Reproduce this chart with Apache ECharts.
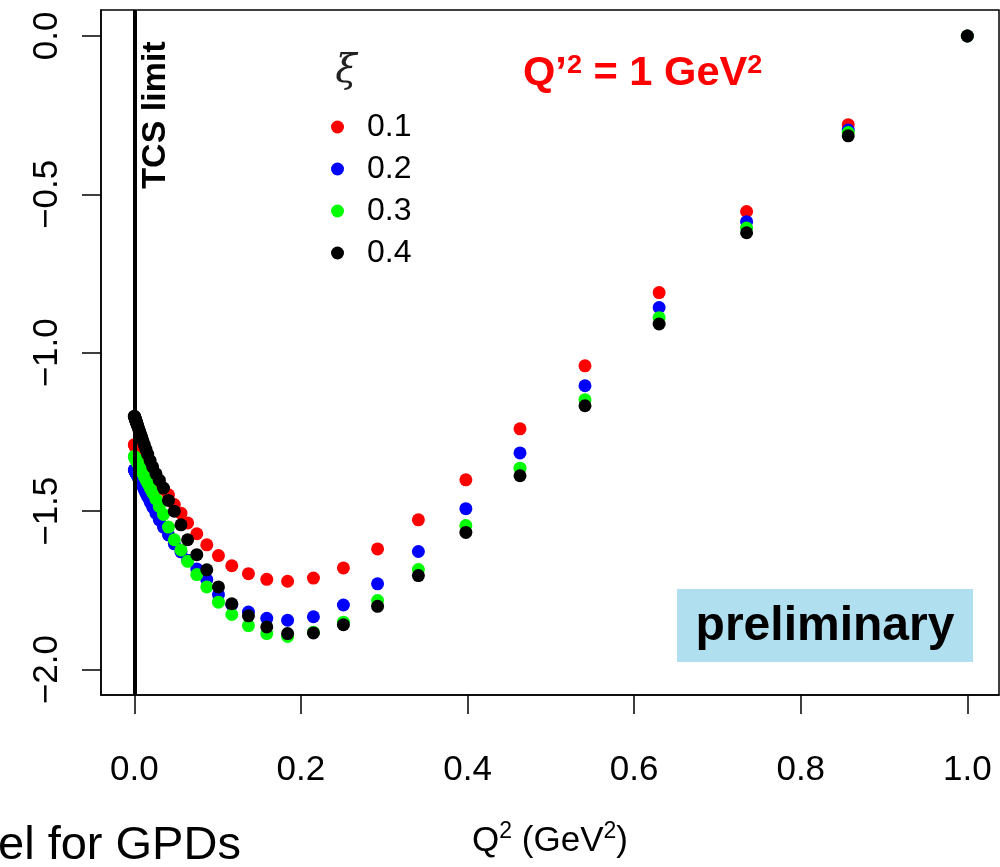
<!DOCTYPE html>
<html><head><meta charset="utf-8">
<script src="https://cdn.jsdelivr.net/npm/echarts@6/dist/echarts.min.js"></script>
<style>html,body{margin:0;padding:0;background:#fff}#c{width:1000px;height:867px}</style>
</head><body><div id="c"></div>
<script>
// Q^2 values (GeV^2), shared by all xi series
const q2 = [0, 0.0003, 0.0006, 0.0009, 0.0012, 0.0015, 0.0018, 0.0021, 0.0025, 0.0029, 0.0034, 0.0040,
  0.0047, 0.0055, 0.0064, 0.0075, 0.0087, 0.010, 0.012, 0.014, 0.016, 0.019, 0.022, 0.026, 0.030, 0.035,
  0.041, 0.048, 0.056, 0.064, 0.075, 0.087, 0.101, 0.117, 0.137, 0.159, 0.184, 0.215, 0.251, 0.292,
  0.341, 0.398, 0.463, 0.541, 0.630, 0.735, 0.857, 1.0];
const xiLabels = ['0.1', '0.2', '0.3', '0.4'];
const yXi01 = [-1.290, -1.291, -1.292, -1.294, -1.295, -1.296, -1.297, -1.298, -1.300, -1.302, -1.304, -1.306,
  -1.309, -1.312, -1.316, -1.320, -1.325, -1.330, -1.338, -1.346, -1.354, -1.366, -1.378, -1.394, -1.410, -1.430,
  -1.448, -1.479, -1.506, -1.537, -1.571, -1.606, -1.640, -1.672, -1.697, -1.715, -1.721, -1.711, -1.679, -1.619,
  -1.527, -1.401, -1.240, -1.041, -0.810, -0.554, -0.280, 0.0];
const yXi02 = [-1.369, -1.370, -1.372, -1.373, -1.375, -1.376, -1.378, -1.379, -1.381, -1.383, -1.386, -1.389,
  -1.393, -1.397, -1.402, -1.408, -1.414, -1.421, -1.433, -1.444, -1.455, -1.471, -1.487, -1.507, -1.527, -1.550,
  -1.575, -1.603, -1.628, -1.655, -1.682, -1.716, -1.763, -1.795, -1.818, -1.838, -1.844, -1.833, -1.796, -1.729,
  -1.627, -1.492, -1.316, -1.104, -0.857, -0.586, -0.297, 0.0];
const yXi03 = [-1.327, -1.329, -1.330, -1.332, -1.333, -1.335, -1.336, -1.338, -1.340, -1.342, -1.344, -1.347,
  -1.351, -1.355, -1.360, -1.366, -1.372, -1.379, -1.390, -1.400, -1.411, -1.427, -1.442, -1.462, -1.485, -1.510,
  -1.550, -1.590, -1.622, -1.658, -1.700, -1.739, -1.787, -1.826, -1.861, -1.886, -1.895, -1.882, -1.850, -1.782,
  -1.684, -1.545, -1.364, -1.148, -0.889, -0.606, -0.305, 0.0];
const yXi04 = [-1.200, -1.202, -1.204, -1.207, -1.209, -1.211, -1.214, -1.216, -1.219, -1.222, -1.226, -1.231,
  -1.236, -1.242, -1.249, -1.257, -1.266, -1.276, -1.290, -1.305, -1.320, -1.340, -1.360, -1.382, -1.402, -1.427,
  -1.466, -1.500, -1.543, -1.590, -1.637, -1.685, -1.739, -1.792, -1.830, -1.865, -1.886, -1.884, -1.858, -1.800,
  -1.703, -1.567, -1.388, -1.167, -0.909, -0.621, -0.315, 0.0];
const xTicks = [0, 0.2, 0.4, 0.6, 0.8, 1.0];
const yTicks = [0, -0.5, -1.0, -1.5, -2.0];
const tcsLimit = 0;

const colors = ['#ff0000', '#0000ff', '#00ff00', '#000000'];
const FONT = 'Liberation Sans';
const ys = [yXi01, yXi02, yXi03, yXi04];
const mk = (i) => ({
  name: xiLabels[i], type: 'scatter', symbol: 'circle', symbolSize: 13,
  itemStyle: { color: colors[i], opacity: 1 },
  data: q2.map((x, j) => [x, ys[i][j]]), silent: true
});
const series = [mk(0), mk(1), mk(2), {
  type: 'scatter', data: [], silent: true,
  markLine: { silent: true, symbol: ['none', 'none'], animation: false,
    lineStyle: { color: '#000', width: 4, type: 'solid' }, label: { show: false },
    data: [{ xAxis: tcsLimit }] }
}, mk(3)];

const fmtY = v => (v === 0 ? '0.0' : (v < 0 ? '\u2212' : '') + Math.abs(v).toFixed(1));
const chart = echarts.init(document.getElementById('c'), null, { renderer: 'canvas' });
chart.setOption({
  animation: false,
  backgroundColor: '#fff',
  grid: { left: 101, right: 1, top: 10, bottom: 172, show: true, borderColor: '#000', borderWidth: 1.5,
    containLabel: false, outerBoundsMode: 'none' },
  xAxis: {
    type: 'value', min: -0.04, max: 1.038, splitLine: { show: false },
    axisLine: { show: true, onZero: false, lineStyle: { color: '#000', width: 1.5 } },
    axisTick: { show: true, customValues: xTicks, length: 19, lineStyle: { color: '#000', width: 1.5 } },
    axisLabel: { customValues: xTicks, formatter: v => v.toFixed(1), fontSize: 35, color: '#000', margin: 58, fontFamily: FONT },
    name: '{a|Q}{s|2}{a| (GeV}{s|2}{a|)}', nameLocation: 'middle', nameGap: 124,
    nameTextStyle: { rich: {
      a: { fontSize: 35, fontFamily: FONT, color: '#000', verticalAlign: 'bottom', lineHeight: 40 },
      s: { fontSize: 23, fontFamily: FONT, color: '#000', verticalAlign: 'bottom', lineHeight: 40, padding: [0, 0, 16, 0] }
    } }
  },
  yAxis: {
    type: 'value', min: -2.08, max: 0.082, splitLine: { show: false },
    axisLine: { show: true, onZero: false, lineStyle: { color: '#000', width: 1.5 } },
    axisTick: { show: true, customValues: yTicks, length: 19, lineStyle: { color: '#000', width: 1.5 } },
    axisLabel: { customValues: yTicks, formatter: fmtY, rotate: 90, fontSize: 35, color: '#000', margin: 36, fontFamily: FONT }
  },
  legend: {
    data: xiLabels, orient: 'vertical', left: 326, top: 101, itemWidth: 13, itemHeight: 13, itemGap: 0,
    icon: 'circle', selectedMode: false,
    textStyle: { fontSize: 32, fontFamily: FONT, color: '#000', lineHeight: 42, padding: [0, 0, 0, 18] }
  },
  graphic: [
    { type: 'text', x: 346, y: 72, silent: true,
      style: { text: '\u03BE', font: 'italic 39px "DejaVu Serif"', fill: '#222', align: 'center', verticalAlign: 'middle' } },
    { type: 'text', x: 523, y: 72, scaleX: 1.04, silent: true,
      style: { text: '{b|Q\u2019}{s|2}{b| = 1 GeV}{s|2}', verticalAlign: 'middle',
        rich: {
          b: { fontSize: 40, fontWeight: 'bold', fontFamily: FONT, fill: '#ff0000', verticalAlign: 'bottom', lineHeight: 44 },
          s: { fontSize: 26, fontWeight: 'bold', fontFamily: FONT, fill: '#ff0000', verticalAlign: 'bottom', lineHeight: 44, padding: [0, 0, 15, 0] }
        } } },
    { type: 'text', x: 156, y: 115, rotation: Math.PI / 2, silent: true,
      style: { text: 'TCS limit', font: 'bold 34px "Liberation Sans"', fill: '#000', align: 'center', verticalAlign: 'middle' } },
    { type: 'rect', shape: { x: 677, y: 589, width: 296, height: 73 }, style: { fill: '#b0dff0' }, silent: true, z: 1 },
    { type: 'text', x: 825, y: 627, silent: true, z: 2,
      style: { text: 'preliminary', font: 'bold 48px "Liberation Sans"', fill: '#000', align: 'center', verticalAlign: 'middle' } },
    { type: 'text', x: -2, y: 846, silent: true,
      style: { text: 'el for GPDs', font: '47px "Liberation Sans"', fill: '#000', align: 'left', verticalAlign: 'middle' } }
  ],
  series: series
});
</script>
</body></html>
